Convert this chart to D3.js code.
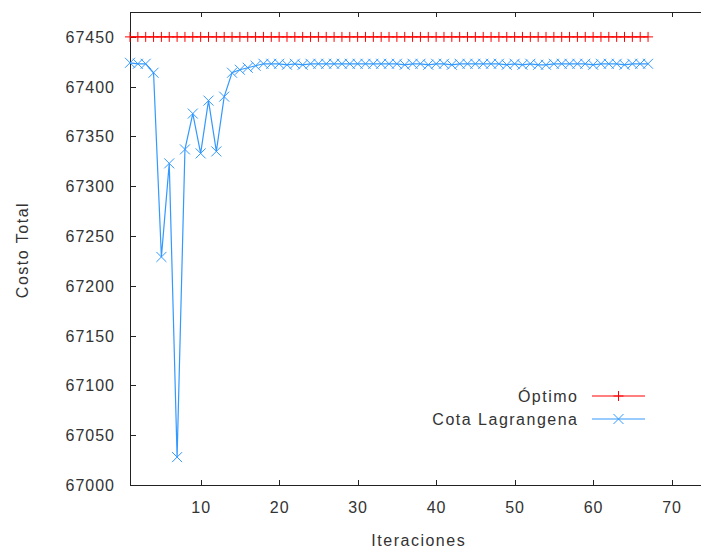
<!DOCTYPE html>
<html><head><meta charset="utf-8">
<script src="https://cdn.jsdelivr.net/npm/d3@7"></script>
<style>body{margin:0;background:#fff}svg{display:block}text{font-family:"Liberation Sans",Arial,sans-serif;fill:#333}</style>
</head><body>
<svg id="c" width="701" height="550"></svg>
<script>
const iterations = d3.range(1, 68);
const optimo = iterations.map(() => 67450);
const cotaLagrangena = [67424,67423,67423,67414,67229,67323,67028,67337,67373,67333,
67386,67335,67390,67414,67417,67419,67421,67423,67423,67423,
67422,67423,67422,67423,67423,67423,67423,67423,67423,67423,
67423,67423,67423,67423,67423,67422,67423,67423,67422,67423,
67423,67422,67423,67423,67423,67423,67423,67423,67422,67423,
67422,67423,67422,67422,67423,67423,67423,67423,67423,67422,
67423,67423,67423,67422,67423,67423,67423];
const xTicks = [10,20,30,40,50,60,70];
const yTicks = d3.range(67000, 67451, 50);
const seriesNames = ["Óptimo","Cota Lagrangena"];
const colors = ["#ff0000","#3399ff"];

const svg = d3.select("#c");
const L=130, R=703, T=12, B=485;
const x = d3.scaleLinear().domain([1,74]).range([L,R]);
const y = d3.scaleLinear().domain([67000,67475]).range([B,T]);
const axisCol = "#222";
const wordLS = 1.5, numLS = 1;

svg.append("rect").attr("x",L+0.5).attr("y",T+0.5).attr("width",R-L).attr("height",B-T)
  .attr("fill","none").attr("stroke",axisCol).attr("stroke-width",1);

const g = svg.append("g");
xTicks.forEach(t=>{
  const px=Math.round(x(t))+0.5;
  g.append("line").attr("x1",px).attr("x2",px).attr("y1",B).attr("y2",B-5).attr("stroke",axisCol);
  g.append("line").attr("x1",px).attr("x2",px).attr("y1",T).attr("y2",T+5).attr("stroke",axisCol);
  g.append("text").attr("x",x(t)+numLS/2).attr("y",B+28).attr("text-anchor","middle")
    .attr("font-size",16).attr("letter-spacing",numLS).text(t);
});
yTicks.forEach(t=>{
  const py=Math.round(y(t))+0.5;
  g.append("line").attr("x1",L).attr("x2",L+6).attr("y1",py).attr("y2",py).attr("stroke",axisCol);
  g.append("text").attr("x",114+numLS).attr("y",y(t)+6).attr("text-anchor","end")
    .attr("font-size",16).attr("letter-spacing",numLS).text(t);
});
svg.append("text").attr("x",418+wordLS/2).attr("y",546).attr("text-anchor","middle").attr("font-size",16)
  .attr("letter-spacing",wordLS).text("Iteraciones");
svg.append("text").attr("transform","translate(28,250) rotate(-90)").attr("text-anchor","middle").attr("font-size",16)
  .attr("letter-spacing",wordLS).text("Costo Total");

function plus(sel,cx,cy,c){
  sel.append("line").attr("x1",cx-5).attr("x2",cx+5).attr("y1",cy).attr("y2",cy).attr("stroke",c);
  sel.append("line").attr("x1",cx).attr("x2",cx).attr("y1",cy-5).attr("y2",cy+5).attr("stroke",c);
}
function cross(sel,cx,cy,c){
  sel.append("line").attr("x1",cx-5).attr("x2",cx+5).attr("y1",cy-5).attr("y2",cy+5).attr("stroke",c);
  sel.append("line").attr("x1",cx-5).attr("x2",cx+5).attr("y1",cy+5).attr("y2",cy-5).attr("stroke",c);
}

const line = d3.line().x(d=>x(d[0])).y(d=>y(d[1]));
const d1 = iterations.map((it,i)=>[it,optimo[i]]);
const d2 = iterations.map((it,i)=>[it,cotaLagrangena[i]]);
const p = svg.append("g");
p.append("path").datum(d1).attr("d",line).attr("fill","none").attr("stroke",colors[0]).attr("stroke-width",1.2);
d1.forEach(d=>plus(p,x(d[0]),y(d[1]),colors[0]));
p.append("path").datum(d2).attr("d",line).attr("fill","none").attr("stroke",colors[1]).attr("stroke-width",1.2);
d2.forEach(d=>cross(p,x(d[0]),y(d[1]),colors[1]));

const lg = svg.append("g");
[396,419].forEach((ly,i)=>{
  lg.append("text").attr("x",577+wordLS).attr("y",ly+6).attr("text-anchor","end").attr("font-size",16)
    .attr("letter-spacing",wordLS).text(seriesNames[i]);
  lg.append("line").attr("x1",592).attr("x2",645).attr("y1",ly).attr("y2",ly).attr("stroke",colors[i]).attr("stroke-width",1.2);
  if(i===0) plus(lg,618.5,ly,colors[i]); else cross(lg,618.5,ly,colors[i]);
});
</script>
</body></html>
